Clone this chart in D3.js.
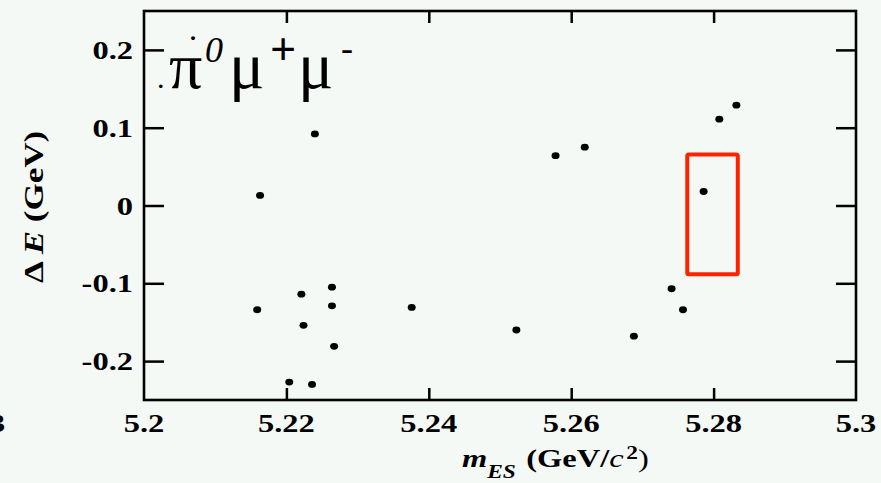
<!DOCTYPE html>
<html><head><meta charset="utf-8">
<script src="https://cdn.jsdelivr.net/npm/d3@7"></script>
<style>
html,body{margin:0;padding:0;background:#f5f9f6;}
svg{display:block;}
</style></head>
<body>
<svg id="c" width="881" height="483"></svg>
<script>
// ---- data ----
const mES = [5.2240, 5.2163, 5.2578, 5.2619, 5.2808, 5.2832, 5.2786, 5.2159, 5.2221, 5.2224,
             5.2264, 5.2264, 5.2267, 5.2204, 5.2236, 5.2376, 5.2523, 5.2688, 5.2741, 5.2757];
const deltaE = [0.092, 0.013, 0.064, 0.075, 0.111, 0.129, 0.018, -0.134, -0.114, -0.154,
                -0.105, -0.129, -0.181, -0.227, -0.230, -0.131, -0.160, -0.168, -0.107, -0.134];
const xTicks = [5.2, 5.22, 5.24, 5.26, 5.28, 5.3];
const xTickLabels = ["5.2", "5.22", "5.24", "5.26", "5.28", "5.3"];
const yTicks = [0.2, 0.1, 0, -0.1, -0.2];
const yTickLabels = ["0.2", "0.1", "0", "-0.1", "-0.2"];
const boxMES = [5.2763, 5.2834];
const boxDE = [-0.0885, 0.0655];
const xDomain = [5.2, 5.3];
const yDomain = [-0.25, 0.25];

// ---- layout ----
const FONT = '"Liberation Serif", "Times New Roman", serif';
const svg = d3.select("#c").style("font-family", FONT);
const L = 144, R = 856, T = 11, B = 400;
const x = d3.scaleLinear().domain(xDomain).range([L, R]);
const y = d3.scaleLinear().domain(yDomain).range([B, T]);

svg.append("rect").attr("width", 881).attr("height", 483).attr("fill", "#f5f9f6");

const innerX = xTicks.filter(v => v > xDomain[0] + 1e-9 && v < xDomain[1] - 1e-9);

function styleAxis(g) {
  g.select(".domain").remove();
  g.selectAll("line").attr("stroke", "#000").attr("stroke-width", 2.5);
  g.selectAll("text").remove();
}
svg.append("g").attr("transform", `translate(0,${B})`)
  .call(d3.axisBottom(x).tickValues(innerX).tickSizeInner(-12).tickSizeOuter(0).tickFormat("")).call(styleAxis);
svg.append("g").attr("transform", `translate(0,${T})`)
  .call(d3.axisTop(x).tickValues(innerX).tickSizeInner(-12).tickSizeOuter(0).tickFormat("")).call(styleAxis);
svg.append("g").attr("transform", `translate(${L},0)`)
  .call(d3.axisLeft(y).tickValues(yTicks).tickSizeInner(-20).tickSizeOuter(0).tickFormat("")).call(styleAxis);
svg.append("g").attr("transform", `translate(${R},0)`)
  .call(d3.axisRight(y).tickValues(yTicks).tickSizeInner(-20).tickSizeOuter(0).tickFormat("")).call(styleAxis);

// frame
svg.append("rect").attr("x", L).attr("y", T).attr("width", R - L).attr("height", B - T)
  .attr("fill", "none").attr("stroke", "#000").attr("stroke-width", 2.6);

// tick labels
svg.append("g").selectAll("text").data(xTicks).join("text")
  .attr("transform", d => `translate(${x(d)},432) scale(1.25,1)`)
  .attr("text-anchor", "middle").attr("font-size", 26).attr("font-weight", "bold")
  .text((d, i) => xTickLabels[i]);
svg.append("g").selectAll("text").data(yTicks).join("text")
  .attr("transform", d => `translate(133,${y(d) + 9}) scale(1.25,1)`)
  .attr("text-anchor", "end").attr("font-size", 26).attr("font-weight", "bold")
  .text((d, i) => yTickLabels[i]);
// cut-off label from neighbouring panel (only its last digit shows)
svg.append("text").attr("transform", `translate(-15,432) scale(1.25,1)`)
  .attr("text-anchor", "middle").attr("font-size", 26).attr("font-weight", "bold").text(xTickLabels[5]);

// signal box
svg.append("rect")
  .attr("x", x(boxMES[0])).attr("y", y(boxDE[1]))
  .attr("width", x(boxMES[1]) - x(boxMES[0])).attr("height", y(boxDE[0]) - y(boxDE[1]))
  .attr("fill", "none").attr("stroke", "#ff2200").attr("stroke-width", 4).attr("rx", 1.5);

// points
svg.append("g").selectAll("ellipse").data(mES).join("ellipse")
  .attr("cx", (d) => x(d)).attr("cy", (d, i) => y(deltaE[i]))
  .attr("rx", 4).attr("ry", 3.4).attr("fill", "#000");

// axis titles
const yl = svg.append("text").attr("transform", "translate(43,207) rotate(-90) scale(1.25,1)")
  .attr("text-anchor", "middle").attr("font-size", 28).attr("font-weight", "bold");
yl.append("tspan").text("Δ ");
yl.append("tspan").attr("font-style", "italic").text("E");
yl.append("tspan").text(" (GeV)");

const xl = svg.append("text").attr("transform", "translate(462,467) scale(1.3,1)")
  .attr("font-size", 25).attr("font-weight", "bold");
xl.append("tspan").attr("font-style", "italic").text("m");
xl.append("tspan").attr("font-style", "italic").attr("font-size", 18).attr("dy", 11).text("ES");
xl.append("tspan").attr("dy", -11).attr("dx", 8).text("(GeV/");
xl.append("tspan").attr("font-style", "italic").attr("font-weight", "normal").text("c");
xl.append("tspan").attr("font-size", 18).attr("dy", -8).attr("dx", 2).text("2");
xl.append("tspan").attr("dy", 8).attr("font-weight", "normal").text(")");

// title  π0μ+μ-
const title = svg.append("g");
title.append("text").attr("x", 157).attr("y", 88).attr("font-size", 30).text(".");
title.append("text").attr("x", 169).attr("y", 88).attr("font-size", 66).text("π");
title.append("text").attr("x", 190).attr("y", 40).attr("font-size", 24).attr("font-weight", "bold").text(".");
title.append("text").attr("x", 205).attr("y", 62).attr("font-size", 36).attr("font-style", "italic").text("0");
title.append("text").attr("x", 229).attr("y", 88).attr("font-size", 66).text("μ");
title.append("text").attr("x", 270).attr("y", 65).attr("font-size", 46).attr("font-weight", "bold").text("+");
title.append("text").attr("x", 298).attr("y", 88).attr("font-size", 66).text("μ");
title.append("text").attr("x", 341).attr("y", 60).attr("font-size", 36).text("-");
</script>
</body></html>
